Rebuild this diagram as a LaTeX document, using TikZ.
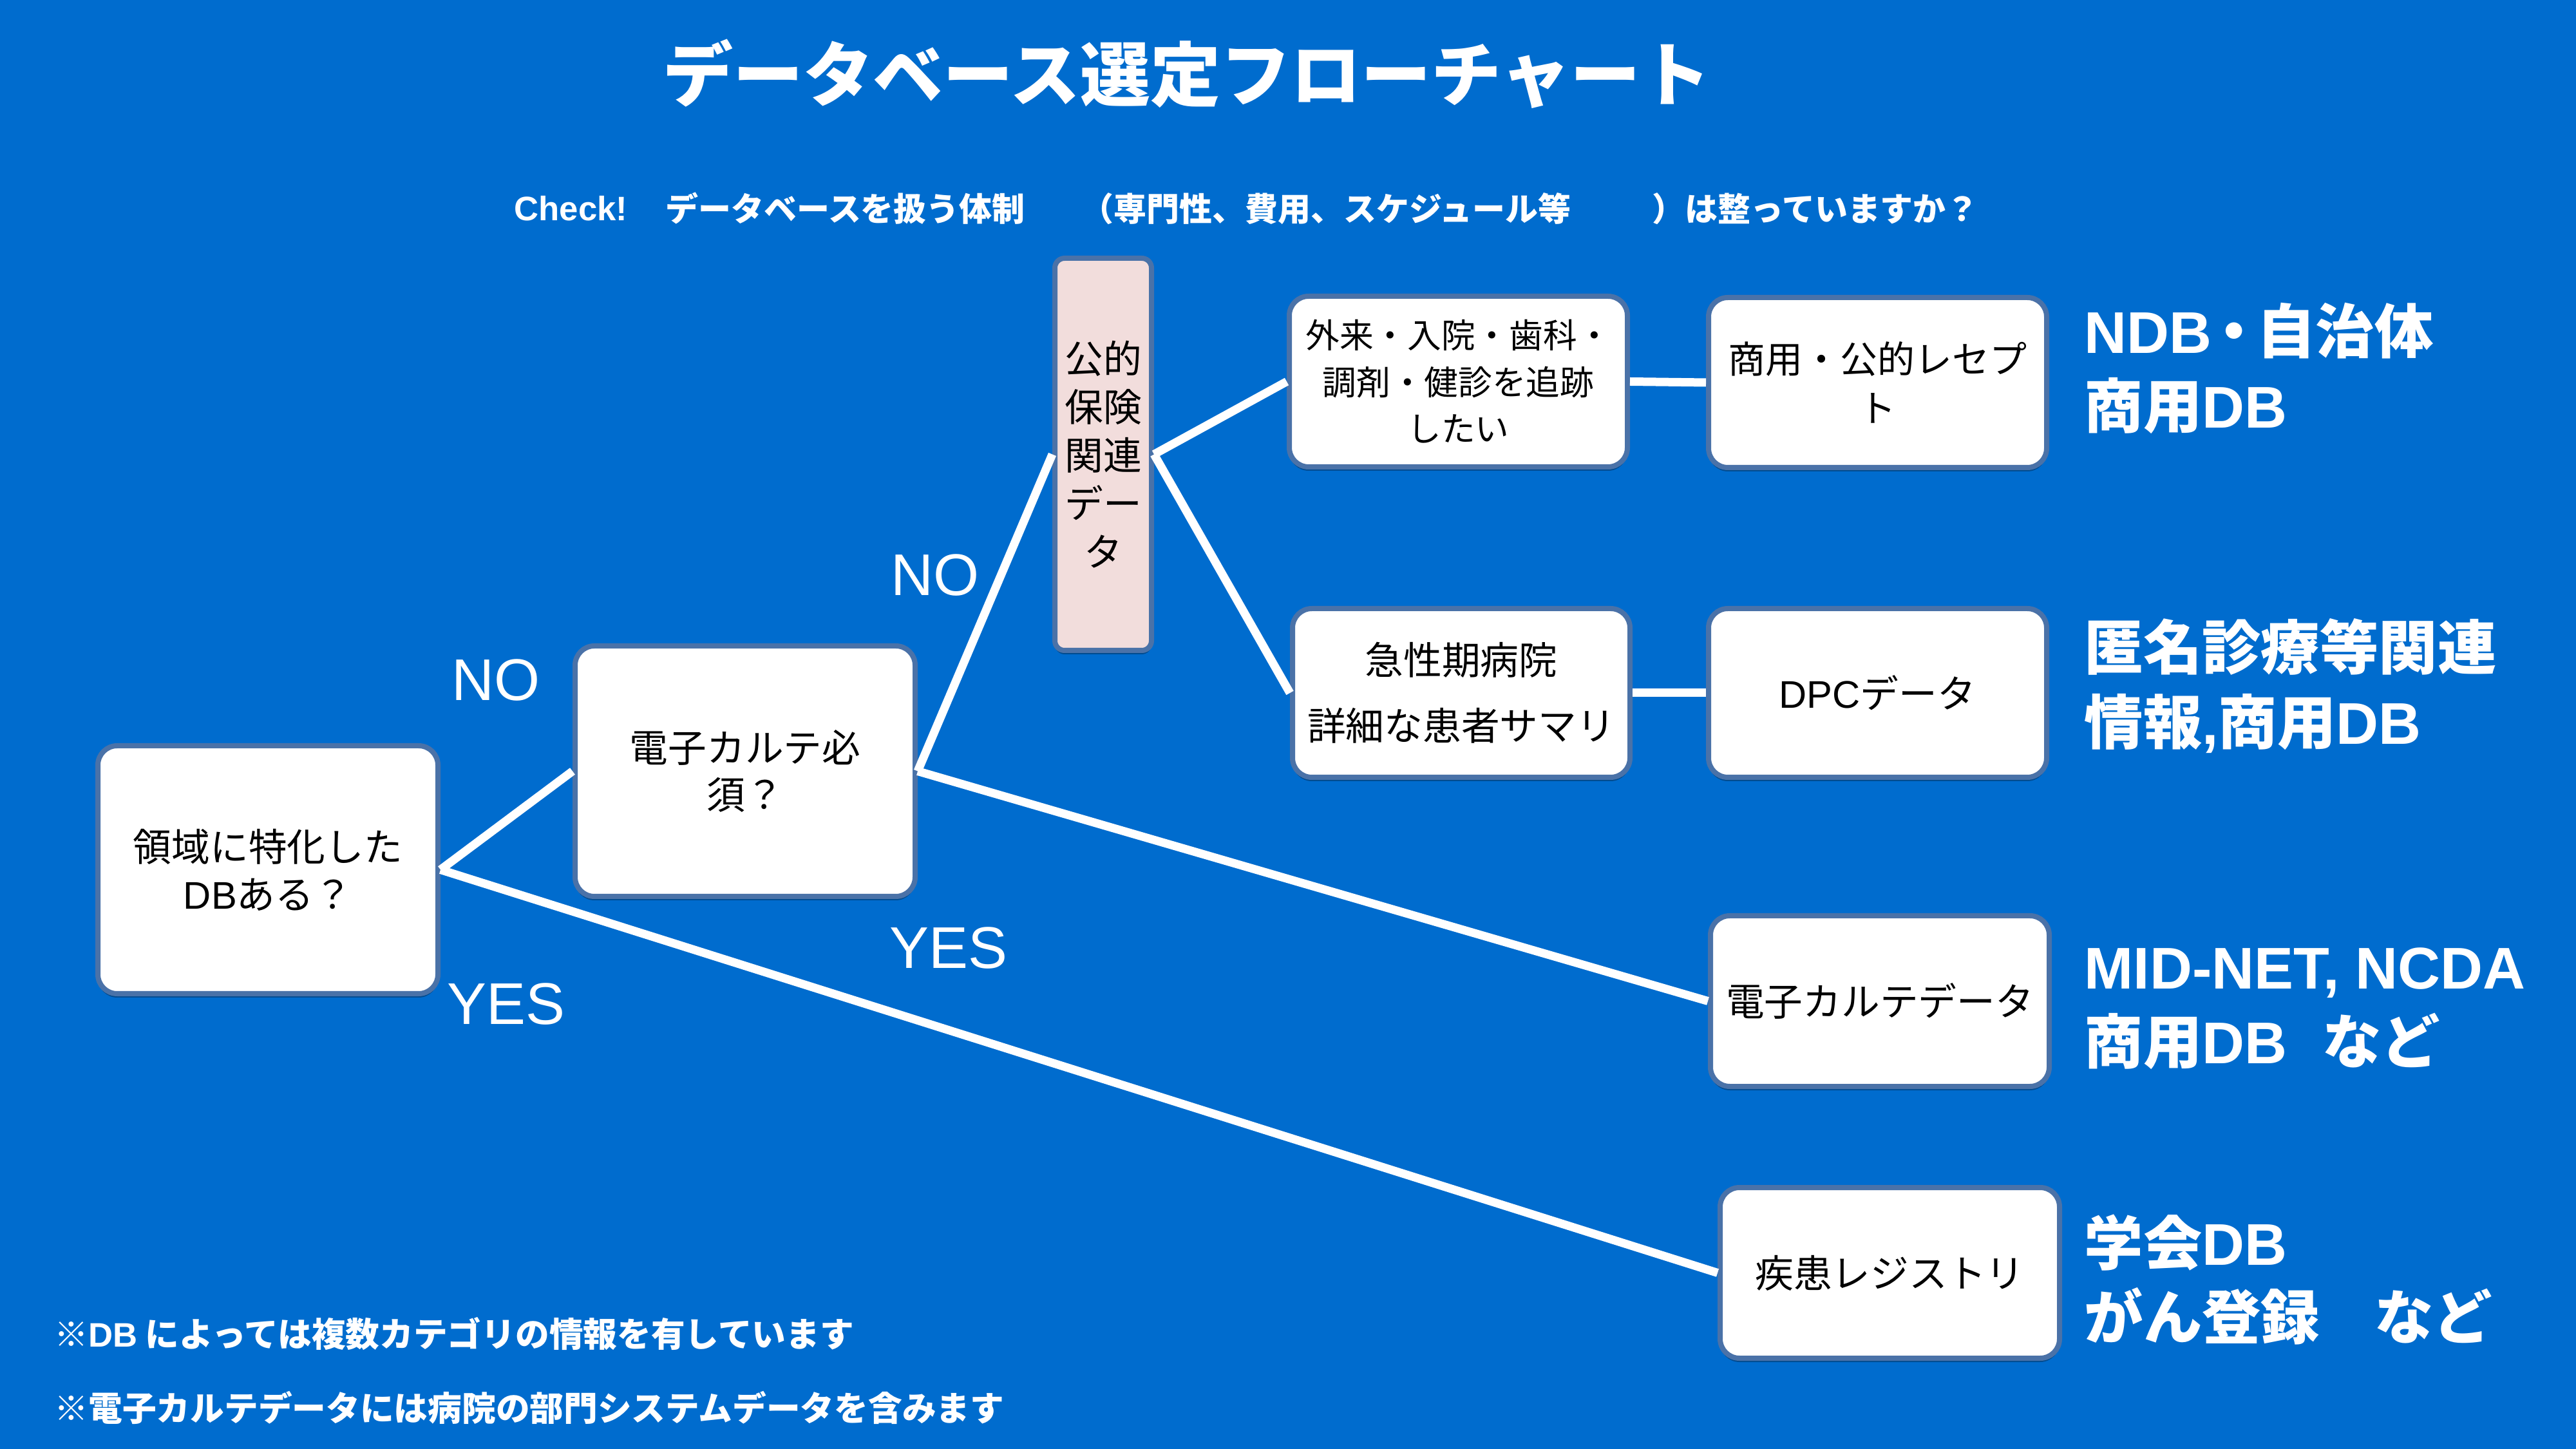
\documentclass[tikz,border=0pt]{standalone}
\usepackage{fontspec}
\setmainfont{Noto Sans CJK JP}
\newfontfamily\lat{Liberation Sans}
\usetikzlibrary{shadows}
\definecolor{bgblue}{RGB}{0,108,206}
\definecolor{bordc}{RGB}{74,114,168}
\definecolor{pinkfill}{RGB}{242,221,220}
\begin{document}
\begin{tikzpicture}[x=1cm,y=1cm,
  box/.style={draw=bordc, line width=0.08cm, fill=white, rounded corners=0.3cm,
    align=center, text=black, inner sep=0pt,
    font=\fontsize{17}{21}\selectfont,
    drop shadow={shadow xshift=0pt, shadow yshift=-0.06cm, opacity=0.3, fill=black}},
  conn/.style={draw=white, line width=0.13cm},
  res/.style={text=white, anchor=west, align=left, inner sep=0pt,
    font=\bfseries\fontsize{26}{33}\selectfont},
  lab/.style={text=white, inner sep=0pt, font=\lat\fontsize{26}{30}\selectfont},
  chk/.style={text=white, anchor=west, inner sep=0pt, font=\bfseries\fontsize{14.5}{17}\selectfont},
  note/.style={text=white, anchor=west, inner sep=0pt, font=\bfseries\fontsize{15}{18}\selectfont}
]
\fill[bgblue] (0,0) rectangle (40,-22.5);
\useasboundingbox (0,0) rectangle (40,-22.5);

% title
\node[text=white, inner sep=0pt, font=\bfseries\fontsize{31}{36}\selectfont] (title) at (18.43,-1.15) {データベース選定フローチャート};

% check line
\node[chk] (chk1) at (7.98,-3.24) {{\lat\fontsize{15}{17}\selectfont Check!}};
\node[chk] (chk2) at (10.33,-3.24) {データベースを扱う体制};
\node[chk] (chk3) at (16.78,-3.24) {（専門性、費用、スケジュール等};
\node[chk] (chk4) at (25.65,-3.24) {）は整っていますか？};

% boxes
\node[box, minimum width=5.28cm, minimum height=3.85cm] (A) at (4.16,-13.505) {領域に特化した\\{\lat DB}ある？};
\node[box, minimum width=5.28cm, minimum height=3.89cm] (B) at (11.57,-11.975) {電子カルテ必\\須？};
\node[box, fill=pinkfill, rounded corners=0.15cm, minimum width=1.50cm, minimum height=6.09cm,
      font=\fontsize{17}{21.3}\selectfont] (C) at (17.13,-7.055) {公的\\保険\\関連\\デー\\タ};
\node[box, minimum width=5.25cm, minimum height=2.65cm, font=\fontsize{15}{20.6}\selectfont] (D) at (22.645,-5.925) {外来・入院・歯科・\\調剤・健診を追跡\\したい};
\node[box, minimum width=5.24cm, minimum height=2.62cm] (E) at (22.69,-10.76) {急性期病院\\[8pt]詳細な患者サマリ};
\node[box, minimum width=5.25cm, minimum height=2.64cm, font=\fontsize{16.5}{21.8}\selectfont] (F) at (29.155,-5.94) {商用・公的レセプ\\ト};
\node[box, minimum width=5.25cm, minimum height=2.62cm] (G) at (29.155,-10.76) {{\lat DPC}データ};
\node[box, minimum width=5.26cm, minimum height=2.65cm] (H) at (29.19,-15.545) {電子カルテデータ};
\node[box, minimum width=5.27cm, minimum height=2.65cm] (I) at (29.345,-19.765) {疾患レジストリ};

% connectors
\draw[conn] (A.east) -- (B.west);
\draw[conn] (A.east) -- (I.west);
\draw[conn] (B.east) -- (C.west);
\draw[conn] (B.east) -- (H.west);
\draw[conn] (C.east) -- (D.west);
\draw[conn] (C.east) -- (E.west);
\draw[conn] (D.east) -- (F.west);
\draw[conn] (E.east) -- (G.west);

% labels
\node[lab] (no1) at (7.70,-10.56) {NO};
\node[lab] (no2) at (14.52,-8.93) {NO};
\node[lab] (yes1) at (14.73,-14.72) {YES};
\node[lab] (yes2) at (7.86,-15.59) {YES};

% results
\node[res] (r1) at (32.36,-5.72) {{\lat NDB}\hspace{-0.12em}・\hspace{-0.12em}自治体\\商用{\lat DB}};
\node[res] (r2) at (32.36,-10.65) {匿名診療等関連\\情報{\lat ,}商用{\lat DB}};
\node[res] (r3) at (32.36,-15.66) {{\lat MID-NET, NCDA}\\商用{\lat DB}\hspace{0.55cm}など};
\node[res] (r4) at (32.36,-19.87) {学会{\lat DB}\\がん登録\hspace{0.85cm}など};

% notes
\node[note] (n1) at (0.84,-20.71) {※{\lat DB} によっては複数カテゴリの情報を有しています};
\node[note] (n2) at (0.84,-21.86) {※電子カルテデータには病院の部門システムデータを含みます};
\end{tikzpicture}
\end{document}
